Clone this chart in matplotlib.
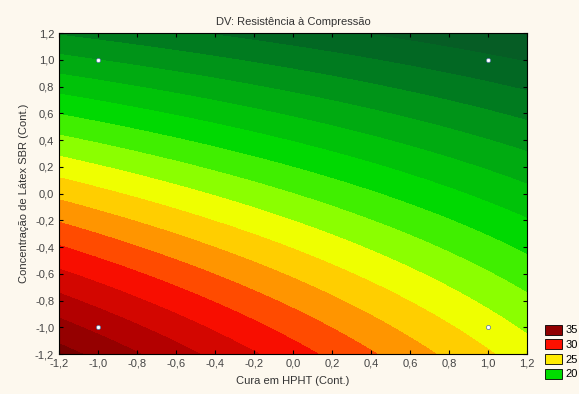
import numpy as np
import matplotlib
matplotlib.use('Agg')
import matplotlib.pyplot as plt
from matplotlib.colors import LinearSegmentedColormap, Normalize
from matplotlib.patches import Patch

plt.rcParams['font.family'] = ['Liberation Sans', 'DejaVu Sans']

# fitted quadratic model: b0, b1 (x), b2 (y), b12 (xy), b11 (x^2), b22 (y^2)
coef = [22.0, -3.4, -7.5, 1.3, 0.0, -0.6]

# design points
pts_x = [-1.0, 1.0, -1.0, 1.0]
pts_y = [1.0, 1.0, -1.0, -1.0]

legend_vals = [35, 30, 25, 20]
ticks = [-1.2, -1.0, -0.8, -0.6, -0.4, -0.2, 0.0, 0.2, 0.4, 0.6, 0.8, 1.0, 1.2]
tick_labels = ['-1,2', '-1,0', '-0,8', '-0,6', '-0,4', '-0,2', '0,0',
               '0,2', '0,4', '0,6', '0,8', '1,0', '1,2']

levels = np.arange(8.5, 40, 1.5)

# colour stops (value, colour)
vmin, vmax = 9, 37
stops = [(9, '#0a4f28'), (13, '#006f22'), (17, '#00b010'), (20, '#00dd00'),
         (22.5, '#7cff00'), (24.5, '#ffff00'), (27, '#ffa000'),
         (30, '#ff1000'), (33, '#b80000'), (37, '#6a0000')]
cmap = LinearSegmentedColormap.from_list(
    'stat', [((v - vmin) / (vmax - vmin), c) for v, c in stops])
norm = Normalize(vmin, vmax)

gx = np.linspace(-1.2, 1.2, 300)
X, Y = np.meshgrid(gx, gx)
b0, b1, b2, b12, b11, b22 = coef
Z = b0 + b1 * X + b2 * Y + b12 * X * Y + b11 * X ** 2 + b22 * Y ** 2

bg = '#fdf8ee'
fig = plt.figure(figsize=(5.79, 3.94), dpi=100, facecolor=bg)
ax = fig.add_axes([0.102, 0.1015, 0.808, 0.8145])
ax.contourf(X, Y, Z, levels=levels, cmap=cmap, norm=norm)
ax.scatter(pts_x, pts_y, s=9, c='white', edgecolors='#5070a0', linewidths=0.5, zorder=3)

ax.set_xlim(-1.2, 1.2)
ax.set_ylim(-1.2, 1.2)
ax.set_xticks(ticks)
ax.set_xticklabels(tick_labels)
ax.set_yticks(ticks)
ax.set_yticklabels(tick_labels)
ax.tick_params(direction='in', length=3, labelsize=8, labelcolor='#444444',
               top=True, right=True)
ax.set_title('DV: Resistência à Compressão', fontsize=8, color='#333333', pad=6)
ax.set_xlabel('Cura em HPHT (Cont.)', fontsize=8, color='#333333', labelpad=5)
ax.set_ylabel('Concentração de Látex SBR (Cont.)', fontsize=8, color='#333333', labelpad=4)

handles = [Patch(facecolor=cmap(norm(v)), edgecolor='black', linewidth=0.6)
           for v in legend_vals]
fig.legend(handles, [str(v) for v in legend_vals], loc='upper left',
           bbox_to_anchor=(0.931, 0.19), frameon=False, fontsize=8,
           handlelength=1.6, handleheight=1.0, handletextpad=0.3,
           labelspacing=0.35, borderpad=0)

fig.savefig('out.png', dpi=100, facecolor=bg)
